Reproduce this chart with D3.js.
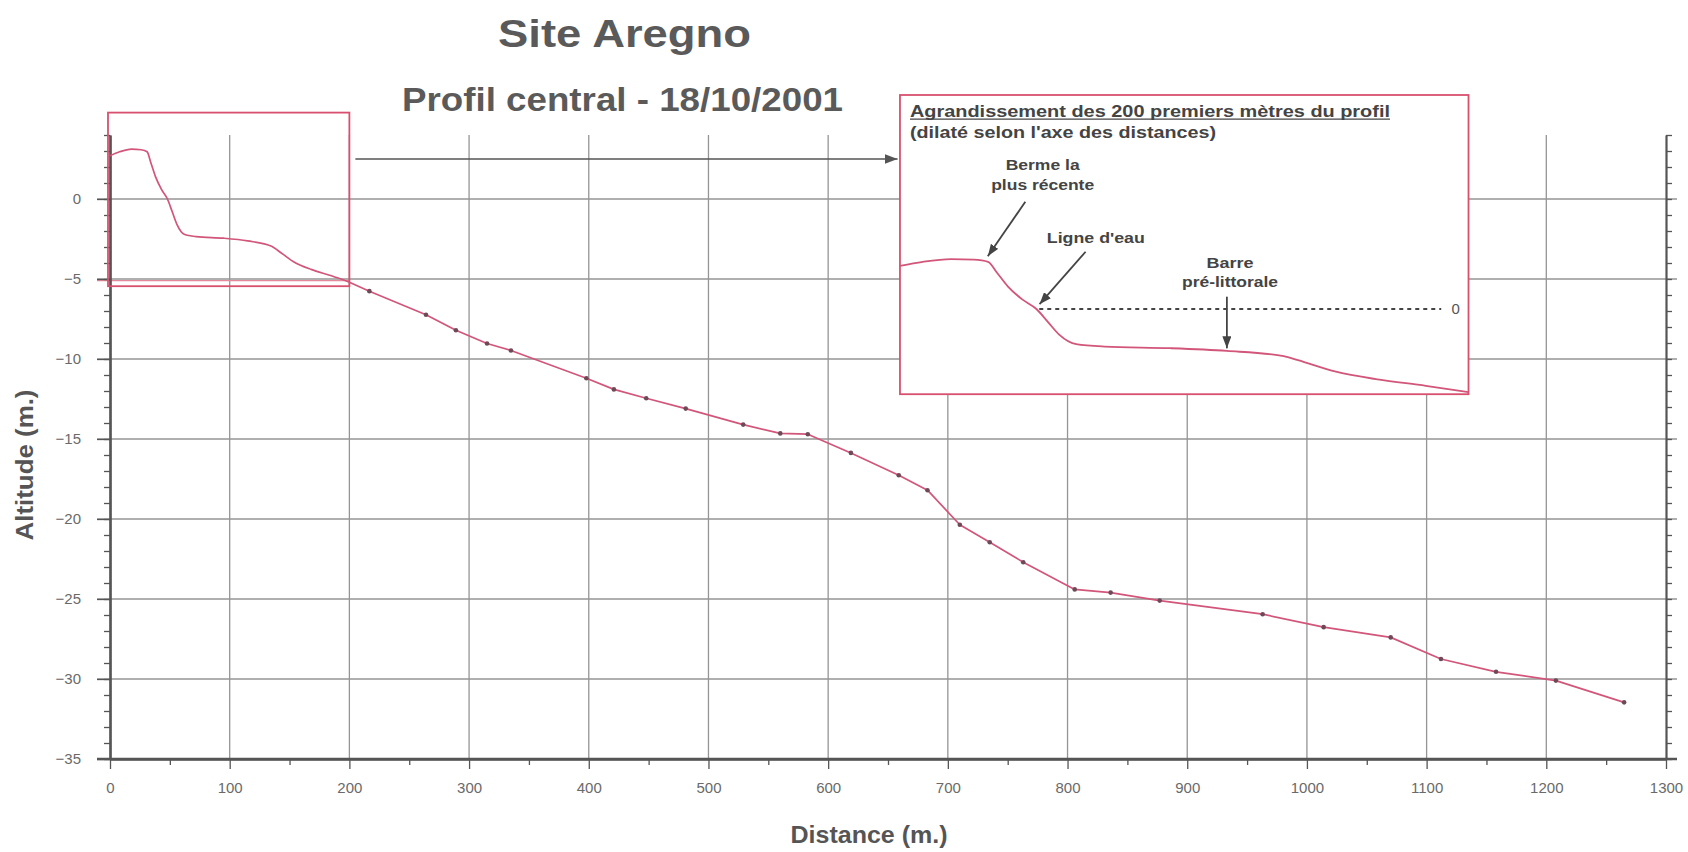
<!DOCTYPE html>
<html><head><meta charset="utf-8">
<script src="https://cdn.jsdelivr.net/npm/d3@7"></script>
<style>body{margin:0;background:#fff}svg{display:block}text{font-family:"Liberation Sans",Arial,sans-serif}</style>
</head><body><svg id="c" width="1688" height="852"></svg>
<script>
// ---- data ----
const beachDist = [0, 8, 18, 26, 31, 34, 38, 43, 48, 52, 56, 62, 72, 95, 115, 135, 140, 153, 168, 185, 200];
const beachAlt  = [2.7, 2.95, 3.12, 3.08, 2.95, 2.3, 1.4, 0.6, 0.0, -0.8, -1.6, -2.2, -2.35, -2.45, -2.62, -2.95, -3.2, -3.9, -4.4, -4.8, -5.2];
const surveyDist = [216.7, 264, 289, 315, 335, 398, 421, 448, 481, 529, 560, 583, 619, 659, 683, 710, 735, 763, 806, 836, 877, 963, 1014, 1070, 1112, 1158, 1208, 1265];
const surveyAlt  = [-5.76, -7.23, -8.2, -9.03, -9.47, -11.2, -11.9, -12.45, -13.1, -14.1, -14.65, -14.7, -15.87, -17.27, -18.2, -20.36, -21.45, -22.7, -24.4, -24.6, -25.1, -25.95, -26.76, -27.4, -28.75, -29.55, -30.1, -31.46];
const xTicks = [0,100,200,300,400,500,600,700,800,900,1000,1100,1200,1300];
const yTicks = [0,-5,-10,-15,-20,-25,-30,-35];
const title = "Site Aregno";
const subtitle = "Profil central - 18/10/2001";
const xTitle = "Distance (m.)";
const yTitle = "Altitude (m.)";
const insetTitle1 = "Agrandissement  des 200 premiers mètres du profil";
const insetTitle2 = "(dilaté selon l'axe des distances)";

// ---- layout ----
const svg = d3.select("#c");
const x = d3.scaleLinear().domain([0,1300]).range([110,1666]);
const y = d3.scaleLinear().domain([-35,4]).range([759,135]);
const gridCol = "#959595", axisCol = "#555", pink = "#d8506e", lineCol = "#d2557a";

const beach = beachDist.map((d,i)=>({d, a:beachAlt[i]}));
const survey = surveyDist.map((d,i)=>({d, a:surveyAlt[i]}));

const defs = svg.append("defs");
function mk(id, w, h, col){
  defs.append("marker").attr("id",id).attr("markerUnits","userSpaceOnUse")
    .attr("markerWidth",w).attr("markerHeight",h).attr("refX",w).attr("refY",h/2)
    .attr("orient","auto").append("path")
    .attr("d",`M0,0 L${w},${h/2} L0,${h} Z`).attr("fill",col);
}
mk("ah1",13,10,"#555");
mk("ah2",12,9,"#444");

// grid
const g = svg.append("g");
g.selectAll(".hg").data(yTicks.filter(v=>v>-35)).join("line")
  .attr("x1",97).attr("x2",1677).attr("y1",d=>y(d)).attr("y2",d=>y(d))
  .attr("stroke",gridCol).attr("stroke-width",1.3);
g.selectAll(".vg").data(xTicks.filter(v=>v>0 && v<1300)).join("line")
  .attr("x1",d=>x(d)).attr("x2",d=>x(d)).attr("y1",y(4)).attr("y2",y(-35))
  .attr("stroke",gridCol).attr("stroke-width",1.3);

// pink reference line at -5 in the enlarged zone
g.append("line").attr("x1",97).attr("x2",x(200)).attr("y1",y(-5.1)).attr("y2",y(-5.1))
  .attr("stroke","#e58a9c").attr("stroke-width",1.4);

// axes
function styleAxis(sel){
  sel.selectAll("path.domain").attr("stroke",axisCol).attr("stroke-width",2.2);
  sel.selectAll(".tick line").attr("stroke",axisCol).attr("stroke-width",1.3);
  sel.selectAll("text").attr("fill","#6a6a6a").attr("font-size",15);
}
const fmt = d3.format("d");
const yMinor = d3.range(-35,5,1);
svg.append("g").attr("transform",`translate(${x(0)},0)`)
  .call(d3.axisLeft(y).tickValues(yMinor).tickSize(6).tickSizeOuter(0).tickFormat(""))
  .call(styleAxis);
svg.append("g").attr("transform",`translate(${x(0)},0)`)
  .call(d3.axisLeft(y).tickValues(yTicks).tickSize(13).tickPadding(16).tickSizeOuter(0).tickFormat(fmt))
  .call(styleAxis);
svg.append("g").attr("transform",`translate(${x(1300)},0)`)
  .call(d3.axisRight(y).tickValues(yMinor).tickSize(6).tickSizeOuter(0).tickFormat(""))
  .call(styleAxis);
svg.append("g").attr("transform",`translate(0,${y(-35)})`)
  .call(d3.axisBottom(x).tickValues(d3.range(50,1300,100)).tickSize(6).tickSizeOuter(0).tickFormat(""))
  .call(styleAxis);
svg.append("g").attr("transform",`translate(0,${y(-35)})`)
  .call(d3.axisBottom(x).tickValues(xTicks).tickSize(10).tickPadding(13).tickSizeOuter(0).tickFormat(fmt))
  .call(styleAxis);
svg.append("line").attr("x1",97).attr("x2",1677).attr("y1",y(-35)).attr("y2",y(-35))
  .attr("stroke",axisCol).attr("stroke-width",2.4);

// left box around first 200 m
svg.append("rect").attr("x",x(0)-2).attr("y",y(5.4)).attr("width",x(200)-x(0)+2).attr("height",y(-5.45)-y(5.4))
  .attr("fill","none").attr("stroke",pink).attr("stroke-width",1.8);

// main profile: smooth beach part, straight survey segments
const lineS = d3.line().x(p=>x(p.d)).y(p=>y(p.a)).curve(d3.curveMonotoneX);
const lineL = d3.line().x(p=>x(p.d)).y(p=>y(p.a));
svg.append("path").datum(beach).attr("d",lineS).attr("fill","none")
  .attr("stroke",lineCol).attr("stroke-width",1.7);
svg.append("path").datum([beach[beach.length-1]].concat(survey)).attr("d",lineL).attr("fill","none")
  .attr("stroke",lineCol).attr("stroke-width",1.7).attr("stroke-linejoin","round");
svg.selectAll(".pt").data(survey).join("circle").attr("cx",p=>x(p.d)).attr("cy",p=>y(p.a))
  .attr("r",2.3).attr("fill","#6d4a58");

// arrow from box to inset
svg.append("line").attr("x1",x(205)).attr("x2",x(658)).attr("y1",y(2.5)).attr("y2",y(2.5))
  .attr("stroke","#555").attr("stroke-width",1.6).attr("marker-end","url(#ah1)");

// ---- inset ----
const iX0 = 660, iX1 = 1135, iY0 = -12.2, iY1 = 6.5;
svg.append("rect").attr("x",x(iX0)).attr("y",y(iY1)).attr("width",x(iX1)-x(iX0)).attr("height",y(iY0)-y(iY1))
  .attr("fill","#fff").attr("stroke",pink).attr("stroke-width",1.8);
const xi = d3.scaleLinear().domain([0,200]).range([x(iX0), x(iX1)]);
const yi = d3.scaleLinear().domain(y.domain().map(v=>v+6.875)).range(y.range());
const lineI = d3.line().x(p=>xi(p.d)).y(p=>yi(p.a)).curve(d3.curveMonotoneX);
svg.append("path").datum(beach).attr("d",lineI).attr("fill","none")
  .attr("stroke",lineCol).attr("stroke-width",1.8);

// water level dashed line
svg.append("line").attr("x1",xi(49)).attr("x2",xi(190.4)).attr("y1",yi(0)).attr("y2",yi(0))
  .attr("stroke","#444").attr("stroke-width",1.8).attr("stroke-dasharray","4,4");
svg.append("text").attr("x",xi(195.5)).attr("y",yi(0)).attr("dy","0.35em").attr("text-anchor","middle")
  .attr("font-size",15).attr("fill","#555").text("0");

// inset headers
const hx = x(iX0)+10;
svg.append("text").attr("x",hx).attr("y",116.7).attr("font-size",16).attr("font-weight","bold")
  .attr("fill","#444").attr("textLength",480).attr("lengthAdjust","spacingAndGlyphs").text(insetTitle1);
svg.append("line").attr("x1",hx).attr("x2",hx+480).attr("y1",119.2).attr("y2",119.2)
  .attr("stroke","#444").attr("stroke-width",1.2);
svg.append("text").attr("x",hx).attr("y",138.3).attr("font-size",16).attr("font-weight","bold")
  .attr("fill","#444").attr("textLength",306).attr("lengthAdjust","spacingAndGlyphs").text(insetTitle2);

// annotations (inset coordinates: distance, altitude)
const notes = [
  {t:"Berme la", d:50.2, a:8.7, w:74},
  {t:"plus récente", d:50.2, a:7.44, w:103},
  {t:"Ligne d'eau", d:68.9, a:4.1, w:98},
  {t:"Barre", d:116.1, a:2.58, w:47},
  {t:"pré-littorale", d:116.1, a:1.39, w:96}
];
svg.selectAll(".note").data(notes).join("text").attr("x",n=>xi(n.d)).attr("y",n=>yi(n.a))
  .attr("text-anchor","middle").attr("font-size",14).attr("font-weight","bold").attr("fill","#444")
  .attr("textLength",n=>n.w).attr("lengthAdjust","spacingAndGlyphs").text(n=>n.t);
const arrows = [
  {d1:44.1, a1:6.7, d2:30.9, a2:3.3},
  {d1:65.3, a1:3.58, d2:49.1, a2:0.3},
  {d1:115, a1:0.77, d2:115, a2:-2.46}
];
svg.selectAll(".arr").data(arrows).join("line")
  .attr("x1",a=>xi(a.d1)).attr("y1",a=>yi(a.a1)).attr("x2",a=>xi(a.d2)).attr("y2",a=>yi(a.a2))
  .attr("stroke","#444").attr("stroke-width",1.8).attr("marker-end","url(#ah2)");

// titles
svg.append("text").attr("x",624.5).attr("y",47).attr("text-anchor","middle").attr("font-size",38)
  .attr("font-weight","bold").attr("fill","#5a5a5a").attr("textLength",253).attr("lengthAdjust","spacingAndGlyphs").text(title);
svg.append("text").attr("x",622.5).attr("y",111).attr("text-anchor","middle").attr("font-size",34)
  .attr("font-weight","bold").attr("fill","#5a5a5a").attr("textLength",441).attr("lengthAdjust","spacingAndGlyphs").text(subtitle);
svg.append("text").attr("x",869).attr("y",842.7).attr("text-anchor","middle").attr("font-size",24)
  .attr("font-weight","bold").attr("fill","#555").attr("textLength",157).attr("lengthAdjust","spacingAndGlyphs").text(xTitle);
svg.append("text").attr("transform","translate(33,465) rotate(-90)").attr("text-anchor","middle").attr("font-size",24)
  .attr("font-weight","bold").attr("fill","#555").attr("textLength",151).attr("lengthAdjust","spacingAndGlyphs").text(yTitle);
</script></body></html>
